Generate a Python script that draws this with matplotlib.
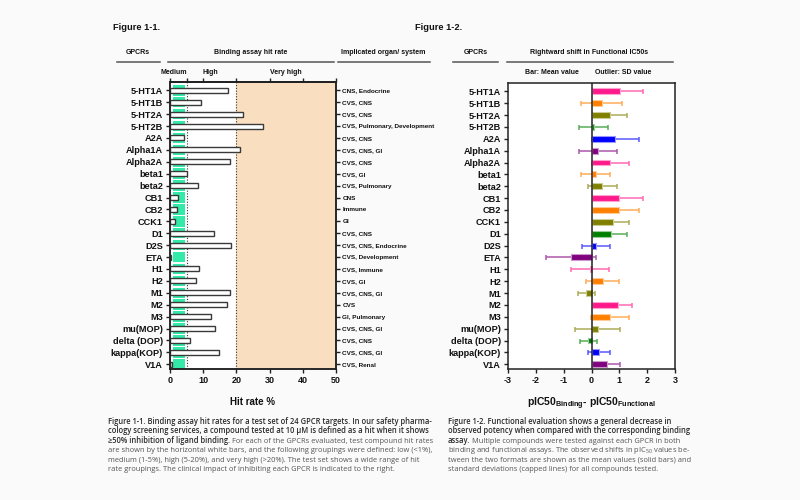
import matplotlib
matplotlib.use("Agg")
import matplotlib.pyplot as plt
from matplotlib.lines import Line2D
import matplotlib.colors as mcolors
import numpy as np

plt.rcParams['font.family'] = ['Liberation Sans', 'DejaVu Sans']
plt.rcParams['mathtext.default'] = 'regular'

gpcrs = ['5-HT1A', '5-HT1B', '5-HT2A', '5-HT2B', 'A2A', 'Alpha1A', 'Alpha2A', 'beta1',
         'beta2', 'CB1', 'CB2', 'CCK1', 'D1', 'D2S', 'ETA', 'H1', 'H2', 'M1', 'M2', 'M3',
         'mu(MOP)', 'delta (DOP)', 'kappa(KOP)', 'V1A']
hit_rate = [17.4, 9.4, 21.9, 27.9, 4.2, 21.0, 18.0, 5.0, 8.3, 2.5, 2.1, 1.6, 13.4, 18.4,
            0.4, 8.7, 7.7, 18.2, 17.2, 12.4, 13.7, 5.9, 14.7, 0.7]
organs = ['CNS, Endocrine', 'CVS, CNS', 'CVS, CNS', 'CVS, Pulmonary, Development', 'CVS, CNS',
          'CVS, CNS, GI', 'CVS, CNS', 'CVS, GI', 'CVS, Pulmonary', 'CNS', 'Immune', 'GI',
          'CVS, CNS', 'CVS, CNS, Endocrine', 'CVS, Development', 'CVS, Immune', 'CVS, GI',
          'CVS, CNS, GI', 'CVS', 'GI, Pulmonary', 'CVS, CNS, GI', 'CVS, CNS', 'CVS, CNS, GI',
          'CVS, Renal']
shift_mean = [1.03, 0.36, 0.67, 0.08, 0.85, 0.23, 0.68, 0.15, 0.38, 1.00, 1.00, 0.79, 0.71,
              0.16, -0.73, -0.04, 0.41, -0.19, 0.96, 0.65, 0.22, -0.12, 0.27, 0.55]
shift_sd = [0.81, 0.73, 0.60, 0.52, 0.85, 0.69, 0.65, 0.53, 0.52, 0.84, 0.72, 0.54, 0.56,
            0.51, 0.89, 0.68, 0.59, 0.30, 0.48, 0.68, 0.82, 0.30, 0.38, 0.47]
PINK, ORANGE, OLIVE, GREEN, BLUE, PURPLE = '#ff1a8c', '#ff8000', '#808000', '#008000', '#0000ff', '#800080'
shift_colors = [PINK, ORANGE, OLIVE, GREEN, BLUE, PURPLE, PINK, ORANGE, OLIVE, PINK, ORANGE,
                OLIVE, GREEN, BLUE, PURPLE, PINK, ORANGE, OLIVE, PINK, ORANGE, OLIVE, GREEN,
                BLUE, PURPLE]
hit_ticks = [0, 10, 20, 30, 40, 50]
shift_ticks = [-3, -2, -1, 0, 1, 2, 3]
medium_range = (1, 4.6)
very_high_range = (20, 50)

W, H = 800, 500
fig = plt.figure(figsize=(8, 5), dpi=100)
fig.patch.set_facecolor('#fafafa')

def fx(px):
    return px / W

def fy(py):
    return 1 - py / H

TXT = '#111111'
n = len(gpcrs)
ypos = np.arange(n)
ylim = (n - 1 + 0.4, -0.7)

# ---------------- Figure 1-1 ----------------
ax = fig.add_axes([fx(170), fy(369), fx(336 - 170), (369 - 82) / H])
ax.set_facecolor('white')
ax.axvspan(*very_high_range, color='#f9dfc0', zorder=0, lw=0)
ax.barh(ypos, medium_range[1] - medium_range[0], left=medium_range[0], height=0.88,
        color='#33eaa8', lw=0, zorder=1)
ax.axvline(5, color='#333333', ls=(0, (1, 1.5)), lw=0.8, zorder=2)
ax.axvline(20, color='#333333', ls=(0, (1, 1.5)), lw=0.8, zorder=2)
ax.barh(ypos, hit_rate, height=0.42, color='white', edgecolor='#3a3a3a', lw=1.0, zorder=3)
ax.set_xlim(0, 50)
ax.set_ylim(*ylim)
ax.set_xticks(hit_ticks)
ax.set_xticklabels([str(t) for t in hit_ticks], fontsize=6.5, fontweight='bold', color=TXT)
ax.set_yticks(ypos)
ax.set_yticklabels(gpcrs, fontsize=6.6, fontweight='bold', color=TXT)
ax.tick_params(axis='both', direction='out', length=3, width=1, pad=2, color='#222222')
for s in ax.spines.values():
    s.set_linewidth(1.1)
    s.set_color('#222222')
ax.set_xlabel('Hit rate %', fontsize=7, fontweight='bold', color=TXT, labelpad=9)

top = ax.secondary_xaxis('top')
top.set_xticks([0, 5, 10, 20, 30, 40, 50])
top.set_xticklabels([])
top.tick_params(direction='out', length=3, width=1, color='#222222')
top.spines['top'].set_linewidth(1.1)

ax2 = ax.twinx()
ax2.set_ylim(*ylim)
ax2.set_yticks(ypos)
ax2.set_yticklabels(organs, fontsize=4.6, fontweight='bold', color=TXT)
ax2.tick_params(axis='y', direction='out', length=3, width=1, pad=1.5, color='#222222')
for s in ax2.spines.values():
    s.set_linewidth(1.1)
    s.set_color('#222222')

# ---------------- Figure 1-2 ----------------
bx = fig.add_axes([fx(508), fy(369), fx(675 - 508), (369 - 83) / H])
bx.set_facecolor('white')

def lighten(c, f):
    r = np.array(mcolors.to_rgb(c))
    return tuple(r + (1 - r) * f)

for i in range(n):
    col = shift_colors[i]
    bx.errorbar(shift_mean[i], ypos[i], xerr=shift_sd[i], fmt='none',
                ecolor=lighten(col, 0.35), elinewidth=1.1, capsize=1.8, capthick=1.1, zorder=2)
    bx.barh(ypos[i], shift_mean[i], height=0.5, color=col,
            edgecolor=lighten(col, 0.6), lw=0.8, zorder=3)
bx.axvline(0, color='#222222', lw=1.1, zorder=4)
bx.set_xlim(-3, 3)
bx.set_ylim(*ylim)
bx.set_xticks(shift_ticks)
bx.set_xticklabels([str(t) for t in shift_ticks], fontsize=6.5, fontweight='bold', color=TXT)
bx.set_yticks(ypos)
bx.set_yticklabels(gpcrs, fontsize=6.6, fontweight='bold', color=TXT)
bx.tick_params(axis='both', direction='out', length=3, width=1, pad=2, color='#222222')
for s in bx.spines.values():
    s.set_linewidth(1.1)
    s.set_color('#222222')
bx.set_xlabel(r'pIC50$_{Binding}$- pIC50$_{Functional}$', fontsize=7.5, fontweight='bold',
              color=TXT, labelpad=8)

# ---------------- headers ----------------
fig.text(fx(113), fy(27), 'Figure 1-1.', fontsize=6.7, fontweight='bold', color=TXT, va='center')
fig.text(fx(415), fy(27), 'Figure 1-2.', fontsize=6.7, fontweight='bold', color=TXT, va='center')
hdr = dict(fontsize=5, fontweight='bold', color=TXT, ha='center', va='center')
fig.text(fx(138), fy(53), 'GPCRs', **hdr)
fig.text(fx(251), fy(53), 'Binding assay hit rate', **hdr)
fig.text(fx(383), fy(53), 'Implicated organ/ system', **hdr)
fig.text(fx(476), fy(53), 'GPCRs', **hdr)
fig.text(fx(589), fy(53), 'Rightward shift in Functional IC50s', **hdr)
for x0, x1 in [(117, 160), (168, 334), (338, 430), (453, 498), (507, 673)]:
    fig.add_artist(Line2D([fx(x0), fx(x1)], [fy(62), fy(62)], color='#555555', lw=1.1))
fig.text(fx(174), fy(72), 'Medium', **hdr)
fig.text(fx(210), fy(72), 'High', **hdr)
fig.text(fx(286), fy(72), 'Very high', **hdr)
fig.text(fx(552), fy(73), 'Bar: Mean value', **hdr)
fig.text(fx(623), fy(73), 'Outlier: SD value', **hdr)

# ---------------- captions ----------------
CAPF = ['Open Sans', 'DejaVu Sans']
CS = 5.42
BOLD = dict(fontsize=CS, family=CAPF, fontweight='semibold', color='#2a2a2a', va='baseline')
REG = dict(fontsize=CS, family=CAPF, fontweight='normal', color='#555555', va='baseline')

c1 = [
    [('Figure 1-1. Binding assay hit rates for a test set of 24 GPCR targets. In our safety pharma-', BOLD)],
    [('cology screening services, a compound tested at 10 µM is defined as a hit when it shows', BOLD)],
    [('≥50% inhibition of ligand binding.', BOLD), (' For each of the GPCRs evaluated, test compound hit rates', REG)],
    [('are shown by the horizontal white bars, and the following groupings were defined: low (<1%),', REG)],
    [('medium (1-5%), high (5-20%), and very high (>20%). The test set shows a wide range of hit', REG)],
    [('rate groupings. The clinical impact of inhibiting each GPCR is indicated to the right.', REG)],
]
c2 = [
    [('Figure 1-2. Functional evaluation shows a general decrease in', BOLD)],
    [('observed potency when compared with the corresponding binding', BOLD)],
    [('assay.', BOLD), (' Multiple compounds were tested against each GPCR in both', REG)],
    [('binding and functional assays. The observed shifts in pIC$_{50}$ values be-', REG)],
    [('tween the two formats are shown as the mean values (solid bars) and', REG)],
    [('standard deviations (capped lines) for all compounds tested.', REG)],
]

def draw_caption(x, y0, lines, dy=9.4):
    renderer = fig.canvas.get_renderer()
    for k, parts in enumerate(lines):
        y = y0 + k * dy
        cx = fx(x)
        for txt, style in parts:
            t = fig.text(cx, fy(y), txt, **style)
            bb = t.get_window_extent(renderer=renderer)
            cx = bb.x1 / (fig.dpi * fig.get_figwidth())

draw_caption(108, 424, c1)
draw_caption(448, 424, c2)

fig.savefig('out.png', dpi=100, facecolor=fig.get_facecolor())
